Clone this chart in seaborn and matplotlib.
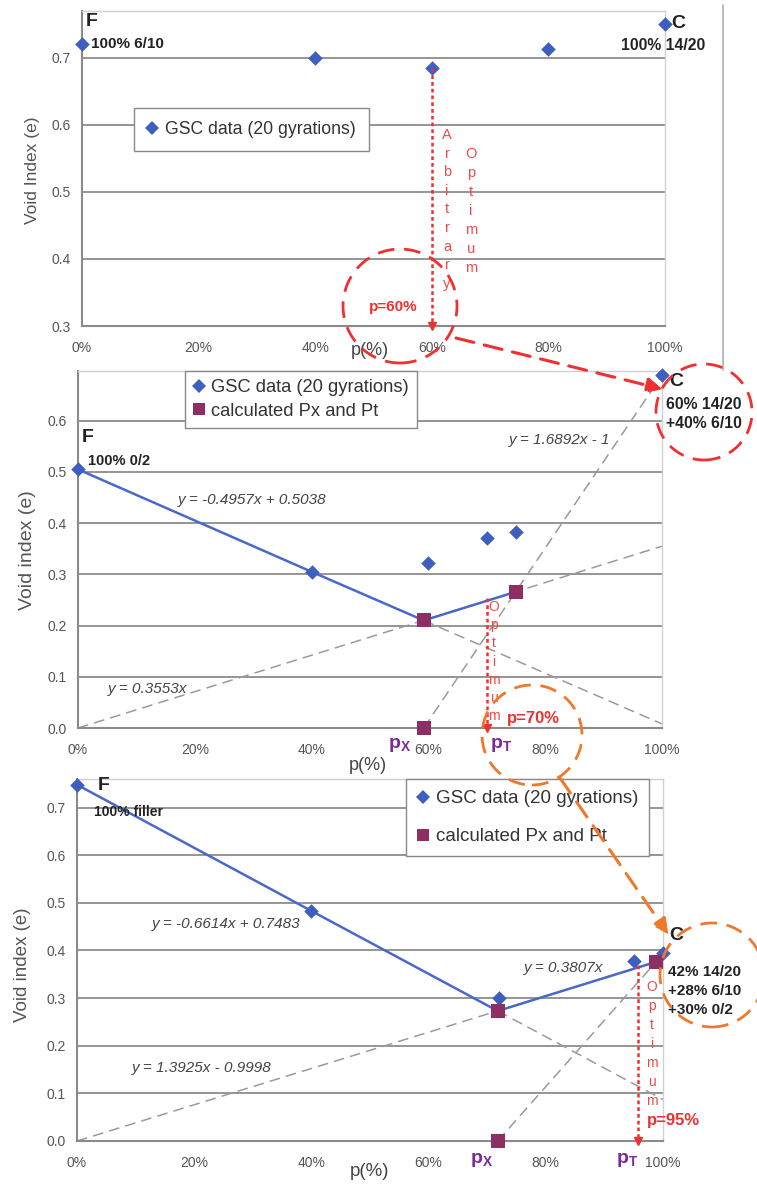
import numpy as np
import pandas as pd
import seaborn as sns
import matplotlib.pyplot as plt
from matplotlib.patches import Ellipse, FancyArrowPatch
from matplotlib.lines import Line2D

# ---------------- data ----------------
# panel 1 (GSC data, 20 gyrations)
p1_x = [0, 40, 60, 80, 100]
p1_y = [0.721, 0.700, 0.685, 0.713, 0.750]

# panel 2
p2_x = [0, 40, 60, 70, 75, 100]
p2_y = [0.505, 0.305, 0.323, 0.370, 0.383, 0.690]
p2_sq_x = [59.2, 59.2, 75.0]
p2_sq_y = [0.0, 0.210, 0.266]
p2_line_x = [0, 40, 59.2, 75.0]
p2_line_y = [0.505, 0.305, 0.210, 0.266]
p2_dash = [([0, 100], [0.0, 0.355]),
           ([59.2, 100], [0.210, 0.008]),
           ([59.2, 100], [0.0, 0.689])]

# panel 3
p3_x = [0, 40, 72, 95, 100]
p3_y = [0.748, 0.483, 0.300, 0.378, 0.395]
p3_sq_x = [71.8, 71.8, 98.8]
p3_sq_y = [0.0, 0.273, 0.376]
p3_line_x = [0, 40, 71.8, 98.8]
p3_line_y = [0.748, 0.483, 0.273, 0.376]
p3_dash = [([0, 98.8], [0.0, 0.376]),
           ([71.8, 100], [0.273, 0.087]),
           ([71.8, 98.8], [0.0, 0.376])]

# optimum arrows (x, y_top, y_bottom)
opt1 = (60, 0.685, 0.30)
opt2 = (70, 0.254, 0.0)
opt3 = (95.7, 0.370, 0.0)

x_ticks = [0, 20, 40, 60, 80, 100]
x_labels = [f"{v}%" for v in x_ticks]

# ---------------- style ----------------
sns.set_style("white")
plt.rcParams['font.family'] = ['Liberation Sans', 'DejaVu Sans']
plt.rcParams['mathtext.fontset'] = 'custom'
plt.rcParams['mathtext.bf'] = 'Liberation Sans:bold'
plt.rcParams['mathtext.rm'] = 'Liberation Sans'

BLUE = '#3f5fbf'
LINE_BLUE = '#4a68c8'
SQ = '#8e2f63'
GRID = '#8c8c8c'
DASH = '#9a9a9a'
RED = '#f03030'
RED_T = '#f04a4a'
ORANGE = '#f07828'
PURPLE = '#7a2a9a'
TXT = '#222222'

W, H = 757, 1184
fig = plt.figure(figsize=(W / 100, H / 100), dpi=100)


def rect(l, t, r, b):
    return [l / W, 1 - b / H, (r - l) / W, (b - t) / H]


def ft(x, y, s, **kw):
    kw.setdefault('ha', 'left')
    kw.setdefault('va', 'center')
    return fig.text(x / W, 1 - y / H, s, **kw)


def style(ax, ylim, yticks):
    ax.set_xlim(0, 100)
    ax.set_ylim(*ylim)
    ax.set_xticks(x_ticks)
    ax.set_xticklabels(x_labels)
    ax.set_yticks(yticks)
    ax.set_yticklabels([f"{v:.1f}" for v in yticks])
    for yv in yticks:
        ax.axhline(yv, color=GRID, lw=1.3, zorder=0.5)
    for s in ['left', 'bottom']:
        ax.spines[s].set_color('#8a8a8a')
        ax.spines[s].set_linewidth(1.5)
    for s in ['top', 'right']:
        ax.spines[s].set_color('#d0d0d0')
        ax.spines[s].set_linewidth(1.0)
    ax.tick_params(axis='both', direction='out', length=4, width=1,
                   color='#8a8a8a', labelsize=10, labelcolor='#555555')
    ax.tick_params(axis='x', pad=7)
    ax.tick_params(axis='y', pad=4)
    ax.set_xlabel('')
    ax.set_ylabel('')


def diamonds(ax, xs, ys):
    sns.scatterplot(x=xs, y=ys, ax=ax, marker='D', s=55, color=BLUE,
                    edgecolor=BLUE, linewidth=0, zorder=5, clip_on=False)


def squares(ax, xs, ys):
    sns.scatterplot(x=xs, y=ys, ax=ax, marker='s', s=100, color=SQ,
                    edgecolor=SQ, linewidth=0, zorder=6, clip_on=False)


def legend(ax, anchor, two, spacing, fs, bpad):
    h = [Line2D([], [], marker='D', ls='', color=BLUE, markersize=7,
                markeredgewidth=0)]
    lab = ['GSC data (20 gyrations)']
    if two:
        h.append(Line2D([], [], marker='s', ls='', color=SQ, markersize=9,
                        markeredgewidth=0))
        lab.append('calculated Px and Pt')
    lg = ax.legend(h, lab, loc='upper left', bbox_to_anchor=anchor,
                   borderaxespad=0, fancybox=False, framealpha=1,
                   edgecolor='#888888', fontsize=fs, handlelength=0.6,
                   handletextpad=0.4, labelspacing=spacing,
                   borderpad=bpad)
    lg.get_frame().set_linewidth(1.0)
    for t in lg.get_texts():
        t.set_color('#333333')
    lg.set_zorder(10)


def opt_arrow(ax, o, color):
    x, yt, yb = o
    ax.plot([x, x], [yt, yb], ls=(0, (1.5, 1.2)), color=color, lw=1.8,
            zorder=7, clip_on=False)
    ax.plot([x], [yb], marker='v', color=color, markersize=6, zorder=7,
            clip_on=False)


# ---------------- panel 1 ----------------
ax1 = fig.add_axes(rect(82, 11, 665, 326))
style(ax1, (0.3, 0.770), [0.3, 0.4, 0.5, 0.6, 0.7])
diamonds(ax1, p1_x, p1_y)
opt_arrow(ax1, opt1, RED)
legend(ax1, (0.089, 0.692), False, 0.5, 12.7, 0.75)

# ---------------- panel 2 ----------------
ax2 = fig.add_axes(rect(78, 371, 662, 728))
style(ax2, (0.0, 0.697), [0.0, 0.1, 0.2, 0.3, 0.4, 0.5, 0.6])
for dx, dy in p2_dash:
    sns.lineplot(x=dx, y=dy, ax=ax2, color=DASH, lw=1.1, sort=False,
                 estimator=None, zorder=2)
    ax2.lines[-1].set_linestyle((0, (7, 4)))
sns.lineplot(x=p2_line_x, y=p2_line_y, ax=ax2, color=LINE_BLUE, lw=1.8,
             sort=False, estimator=None, zorder=4)
diamonds(ax2, p2_x, p2_y)
squares(ax2, p2_sq_x, p2_sq_y)
opt_arrow(ax2, opt2, RED)
legend(ax2, (0.183, 1.0), True, 0.35, 13.2, 0.45)

# ---------------- panel 3 ----------------
ax3 = fig.add_axes(rect(77, 779, 663, 1141))
style(ax3, (0.0, 0.76), [0.0, 0.1, 0.2, 0.3, 0.4, 0.5, 0.6, 0.7])
for dx, dy in p3_dash:
    sns.lineplot(x=dx, y=dy, ax=ax3, color=DASH, lw=1.1, sort=False,
                 estimator=None, zorder=2)
    ax3.lines[-1].set_linestyle((0, (7, 4)))
sns.lineplot(x=p3_line_x, y=p3_line_y, ax=ax3, color=LINE_BLUE, lw=1.8,
             sort=False, estimator=None, zorder=4)
diamonds(ax3, p3_x, p3_y)
squares(ax3, p3_sq_x, p3_sq_y)
opt_arrow(ax3, opt3, RED)
legend(ax3, (0.561, 1.0), True, 1.1, 13.5, 0.6)

for ax in (ax1, ax2, ax3):
    for c in ax.collections:
        c.set_clip_on(False)

# ---------------- axis titles ----------------
ft(32, 170, 'Void Index (e)', rotation=90, ha='center', fontsize=12.5, color='#555555')
ft(27, 550, 'Void index (e)', rotation=90, ha='center', fontsize=14, color='#555555')
ft(23, 965, 'Void index (e)', rotation=90, ha='center', fontsize=13.5, color='#555555')
ft(370, 351, 'p(%)', ha='center', fontsize=13, color='#444444')
ft(368, 765, 'p(%)', ha='center', fontsize=13, color='#444444')
ft(370, 1171, 'p(%)', ha='center', fontsize=13.5, color='#444444')

# frame line of the top chart
fig.add_artist(Line2D([723 / W, 723 / W], [1 - 5 / H, 1 - 370 / H],
                      color='#b0b0b0', lw=1.2))

# ---------------- labels panel 1 ----------------
ft(86, 21, 'F', fontsize=14, fontweight='bold', color=TXT)
ft(91, 44, '100% 6/10', fontsize=11, fontweight='bold', color=TXT)
ft(671, 23, 'C', fontsize=14, fontweight='bold', color=TXT)
ft(621, 45, '100% 14/20', fontsize=11.3, fontweight='bold', color=TXT)
ft(447, 128, '\n'.join('Arbitrary'), ha='center', va='top', fontsize=10.5,
   color=RED_T, linespacing=1.42)
ft(471, 147, '\n'.join('Optimum'), ha='center', va='top', fontsize=10.5,
   color=RED_T, linespacing=1.45)
ft(369, 307, 'p=60%', fontsize=11, fontweight='bold', color=RED)

# ---------------- labels panel 2 ----------------
ft(82, 438, 'F', fontsize=14, fontweight='bold', color=TXT)
ft(88, 461, '100% 0/2', fontsize=10.5, fontweight='bold', color=TXT)
ft(669, 382, 'C', fontsize=14, fontweight='bold', color=TXT)
ft(666, 405, '60% 14/20', fontsize=11.3, fontweight='bold', color=TXT)
ft(666, 424, '+40% 6/10', fontsize=11.3, fontweight='bold', color=TXT)
ft(252, 500, 'y = -0.4957x + 0.5038', ha='center', fontsize=11,
   style='italic', color='#444444')
ft(148, 689, 'y = 0.3553x', ha='center', fontsize=11, style='italic',
   color='#444444')
ft(560, 440, 'y = 1.6892x - 1', ha='center', fontsize=11, style='italic',
   color='#444444')
ft(494, 600, '\n'.join('Optimum'), ha='center', va='top', fontsize=10,
   color=RED_T, linespacing=1.38)
ft(507, 718, 'p=70%', fontsize=12, fontweight='bold', color=RED)
ft(388, 745, r'$\mathbf{p_{X}}$', fontsize=14, color=PURPLE)
ft(490, 745, r'$\mathbf{p_{T}}$', fontsize=14, color=PURPLE)

# ---------------- labels panel 3 ----------------
ft(98, 786, 'F', fontsize=14, fontweight='bold', color=TXT)
ft(94, 812, '100% filler', fontsize=10, fontweight='bold', color=TXT)
ft(226, 924, 'y = -0.6614x + 0.7483', ha='center', fontsize=11,
   style='italic', color='#444444')
ft(202, 1068, 'y = 1.3925x - 0.9998', ha='center', fontsize=11,
   style='italic', color='#444444')
ft(564, 968, 'y = 0.3807x', ha='center', fontsize=11, style='italic',
   color='#444444')
ft(669, 935, 'C', fontsize=14, fontweight='bold', color=TXT)
ft(668, 972, '42% 14/20', fontsize=11, fontweight='bold', color=TXT)
ft(668, 991, '+28% 6/10', fontsize=11, fontweight='bold', color=TXT)
ft(668, 1010, '+30% 0/2', fontsize=11, fontweight='bold', color=TXT)
ft(652, 980, '\n'.join('Optimum'), ha='center', va='top', fontsize=10,
   color=RED_T, linespacing=1.45)
ft(647, 1120, 'p=95%', fontsize=12, fontweight='bold', color=RED)
ft(470, 1160, r'$\mathbf{p_{X}}$', fontsize=14, color=PURPLE)
ft(616, 1160, r'$\mathbf{p_{T}}$', fontsize=14, color=PURPLE)


# ---------------- circles & arrows ----------------
def circle(cx, cy, r, color):
    e = Ellipse((cx / W, 1 - cy / H), 2 * r / W, 2 * r / H,
                transform=fig.transFigure, fill=False, ec=color, lw=2.0,
                ls=(0, (6, 3.5)), zorder=20)
    fig.add_artist(e)


def arrow(x0, y0, x1, y1, color):
    a = FancyArrowPatch((x0 / W, 1 - y0 / H), (x1 / W, 1 - y1 / H),
                        transform=fig.transFigure, arrowstyle='-|>',
                        mutation_scale=22, color=color, lw=2.2,
                        ls=(0, (6, 3.5)), zorder=21, shrinkA=0, shrinkB=0)
    fig.add_artist(a)
    h = FancyArrowPatch((x1 / W - (x1 - x0) * 0.001 / W, 1 - (y1 - (y1 - y0) * 0.001) / H),
                        (x1 / W, 1 - y1 / H), transform=fig.transFigure,
                        arrowstyle='-|>', mutation_scale=22, color=color,
                        lw=0.5, zorder=22, shrinkA=0, shrinkB=0)
    fig.add_artist(h)


circle(400, 306, 57, RED)
circle(704, 412, 48, RED)
circle(532, 735, 50, ORANGE)
circle(712, 975, 52, ORANGE)
arrow(456, 338, 662, 389, RED)
arrow(560, 778, 668, 934, ORANGE)

fig.savefig('out.png', dpi=100)
